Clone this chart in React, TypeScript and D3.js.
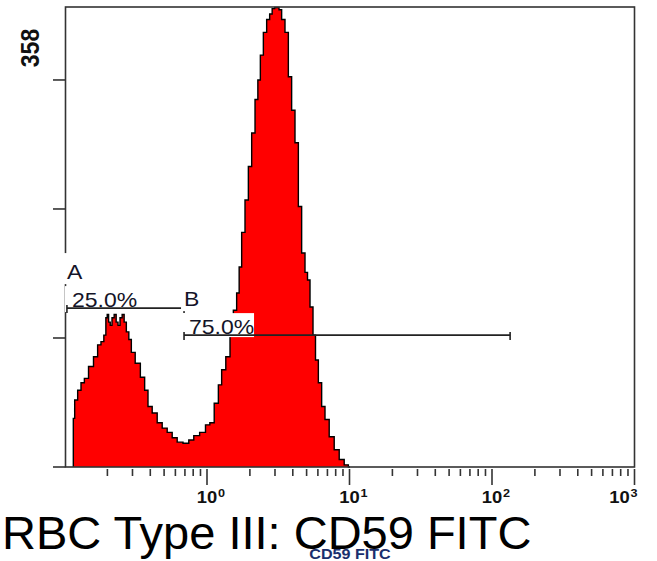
import React from 'react';
import * as d3 from 'd3';

// Histogram outline (fluorescence value, event count)
const fluorescence = [0.1153, 0.1153, 0.1205, 0.127, 0.1342, 0.1416, 0.1535, 0.1663, 0.1754, 0.1853, 0.1924, 0.1978, 0.201, 0.2069, 0.212, 0.219, 0.2273, 0.2336, 0.2413, 0.2492, 0.2586, 0.2658, 0.2776, 0.2881, 0.301, 0.3264, 0.3556, 0.375, 0.3962, 0.4295, 0.4657, 0.5049, 0.5473, 0.5933, 0.6433, 0.7155, 0.7757, 0.841, 0.9373, 1.016, 1.079, 1.17, 1.234, 1.301, 1.411, 1.491, 1.572, 1.658, 1.705, 1.798, 1.899, 2.004, 2.114, 2.233, 2.317, 2.42, 2.553, 2.693, 2.813, 2.92, 3.05, 3.15, 3.253, 3.431, 3.625, 3.823, 4.032, 4.261, 4.494, 4.74, 5.009, 5.14, 5.43, 5.662, 5.886, 6.209, 6.549, 6.918, 7.501, 8.134, 8.817, 9.559, 10.08];
const eventCounts = [0, 45, 62, 71, 78, 82, 93, 102, 113, 116, 122, 138, 141, 134, 131, 138, 141, 134, 131, 138, 141, 134, 125, 118, 106, 96, 83, 71, 56, 50, 41, 36, 32, 27, 23, 22, 25, 29, 32, 39, 41, 59, 76, 90, 102, 124, 145, 161, 185, 217, 247, 278, 309, 340, 358, 381, 402, 414, 419, 424, 425, 425, 423, 414, 402, 361, 330, 300, 241, 198, 180, 173, 148, 122, 99, 78, 56, 44, 28, 16, 7, 2, 0];

const yAxisMax = 425.5;
const yTickValues = [0, 119.33, 238.67, 358];
const yTickLabels = ['', '', '', '358'];
const xDomain = [0.1, 1000];
const xMajorValues = [1, 10, 100, 1000];
const xMajorExponents = ['0', '1', '2', '3'];
const xMinorDecades = [0.1, 1, 10, 100];
const xMinorMultipliers = [2, 3, 4, 5, 6, 7, 8, 9];

const markerNames = ['A', 'B'];
const markerPercents = ['25.0%', '75.0%'];
const markerStarts = [0.104, 0.69];
const markerEnds = [0.69, 134];
const markerLevels = [147, 122];

const titleText = 'RBC Type III: CD59 FITC';
const axisTitle = 'CD59 FITC';

const FONT = "Arial, 'Liberation Sans', sans-serif";
const SX = 1.15; // horizontal stretch of chart text

export default function App() {
  const W = 657, H = 561;
  const top = 7, bottom = 467;
  const x = d3.scaleLog().domain(xDomain).range([64.5, 634.5]);
  const y = d3.scaleLinear().domain([0, yAxisMax]).range([bottom, top]);
  const left = x(xDomain[0]) + 1;
  const right = x(xDomain[1]);

  const pts: [number, number][] = fluorescence.map((f, i) => [f, eventCounts[i]]);
  const area = d3.area<[number, number]>()
    .x(d => x(d[0])).y0(y(0)).y1(d => y(d[1])).curve(d3.curveStep);
  const line = d3.line<[number, number]>()
    .x(d => x(d[0])).y(d => y(d[1])).curve(d3.curveStep);

  const minorTicks: number[] = [];
  xMinorDecades.forEach(d => xMinorMultipliers.forEach(m => minorTicks.push(d * m)));

  const frame = '#333';

  return (
    <svg width={W} height={H} style={{ position: 'absolute', left: 0, top: 0, background: '#fff' }} fontFamily={FONT}>
      <rect x={0} y={0} width={W} height={H} fill="#fff" />
      {/* histogram */}
      <path d={area(pts) || ''} fill="#ff0000" />
      <path d={line(pts) || ''} fill="none" stroke="#000" strokeWidth={1.4} />

      {/* frame */}
      <rect x={left} y={top} width={right - left} height={bottom - top} fill="none" stroke={frame} strokeWidth={1.6} />

      {/* y ticks */}
      {yTickValues.map((v, i) => (
        <line key={'yt' + i} x1={53} x2={left} y1={y(v)} y2={y(v)} stroke={frame} strokeWidth={1.6} />
      ))}
      {yTickValues.map((v, i) => yTickLabels[i] ? (
        <text key={'yl' + i} transform={`translate(38.5,48) scale(${SX},1) rotate(-90)`} textAnchor="middle"
          fontSize={23} fontWeight="bold" fill="#111">{yTickLabels[i]}</text>
      ) : null)}

      {/* x ticks */}
      {minorTicks.map((v, i) => (
        <line key={'xm' + i} x1={x(v)} x2={x(v)} y1={469} y2={476} stroke={frame} strokeWidth={1.6} />
      ))}
      {xMajorValues.map((v, i) => (
        <line key={'xM' + i} x1={x(v)} x2={x(v)} y1={469} y2={485} stroke={frame} strokeWidth={1.6} />
      ))}
      {xMajorValues.map((v, i) => {
        const shift = i === xMajorValues.length - 1 ? -15 : 0;
        return (
          <g key={'xl' + i} transform={`translate(${x(v) + shift},503) scale(${SX},1)`} fill="#111" fontWeight="bold">
            <text textAnchor="middle" fontSize={16}>10</text>
            <text x={9.5} y={-6.5} fontSize={11}>{xMajorExponents[i]}</text>
          </g>
        );
      })}

      {/* markers */}
      {markerNames.map((n, i) => {
        const x0 = x(markerStarts[i]);
        const x1 = x(markerEnds[i]);
        const yy = y(markerLevels[i]);
        return (
          <g key={'mk' + i}>
            <rect x={x0 - 3} y={yy - 55} width={19} height={31} fill="#fff" />
            <rect x={x0 - 2} y={yy - 22} width={72} height={i === 0 ? 26 : 24} fill="#fff" />
            <line x1={x0} x2={x1} y1={yy} y2={yy} stroke="#222" strokeWidth={1.6} />
            <line x1={x0} x2={x0} y1={yy - 3} y2={yy + 5} stroke="#222" strokeWidth={1.6} />
            <line x1={x1} x2={x1} y1={yy - 3} y2={yy + 5} stroke="#222" strokeWidth={1.6} />
            <text transform={`translate(${x0},${yy - 29}) scale(${SX},1)`} fontSize={20} fill="#141428">{n}</text>
            <text transform={`translate(${x0 + 5},${yy - 1}) scale(${SX},1)`} fontSize={20} fill="#141428">{markerPercents[i]}</text>
          </g>
        );
      })}

      {/* axis title */}
      <text transform={`translate(${(left + right) / 2},559) scale(${SX},1)`} textAnchor="middle" fontSize={14}
        fontWeight="bold" fill="#1a2f6e">{axisTitle}</text>

      {/* overlay title */}
      <text x={2} y={549} fontSize={47} fill="#000">{titleText}</text>
    </svg>
  );
}
